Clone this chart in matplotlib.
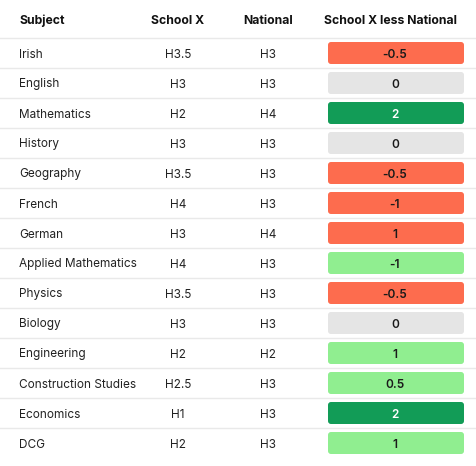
import matplotlib.pyplot as plt
from matplotlib.patches import FancyBboxPatch

subjects = ['Irish', 'English', 'Mathematics', 'History', 'Geography', 'French', 'German',
            'Applied Mathematics', 'Physics', 'Biology', 'Engineering',
            'Construction Studies', 'Economics', 'DCG']
school_x = ['H3.5', 'H3', 'H2', 'H3', 'H3.5', 'H4', 'H3', 'H4', 'H3.5', 'H3', 'H2', 'H2.5', 'H1', 'H2']
national = ['H3', 'H3', 'H4', 'H3', 'H3', 'H3', 'H4', 'H3', 'H3', 'H3', 'H2', 'H3', 'H3', 'H3']
diff = ['-0.5', '0', '2', '0', '-0.5', '-1', '1', '-1', '-0.5', '0', '1', '0.5', '2', '1']
status = ['worse', 'same', 'much_better', 'same', 'worse', 'worse', 'worse', 'better',
          'worse', 'same', 'better', 'better', 'much_better', 'better']
headers = ['Subject', 'School X', 'National', 'School X less National']

fill = {'worse': '#fd6c4e', 'same': '#e5e5e5', 'better': '#90ee90', 'much_better': '#129c57'}
txtc = {'worse': '#1a1a1a', 'same': '#1a1a1a', 'better': '#1a1a1a', 'much_better': 'white'}

plt.rcParams['font.family'] = ['Inter', 'DejaVu Sans']
W, H = 476, 466
fig = plt.figure(figsize=(W/100, H/100), dpi=100)
ax = fig.add_axes([0, 0, 1, 1])
ax.set_xlim(0, W)
ax.set_ylim(H, 0)
ax.axis('off')

fs = 8.5
hs = 8.8
ax.text(19, 21, headers[0], ha='left', va='center', fontsize=hs, fontweight='bold', color='#111111')
ax.text(178, 21, headers[1], ha='center', va='center', fontsize=hs, fontweight='bold', color='#111111')
ax.text(268, 21, headers[2], ha='center', va='center', fontsize=hs, fontweight='bold', color='#111111')
ax.text(390, 21, headers[3], ha='center', va='center', fontsize=hs, fontweight='bold', color='#111111')

for i in range(len(subjects)):
    y = 53 + 30*i
    ax.plot([0, W], [y-15, y-15], color='#e9e9e9', lw=1)
    ax.text(19, y+1.5, subjects[i], ha='left', va='center', fontsize=fs, color='#222222')
    ax.text(178, y+1.5, school_x[i], ha='center', va='center', fontsize=fs, color='#222222')
    ax.text(268, y+1.5, national[i], ha='center', va='center', fontsize=fs, color='#222222')
    box = FancyBboxPatch((328, y-11), 136, 22, boxstyle='round,pad=0,rounding_size=3',
                         facecolor=fill[status[i]], edgecolor='none')
    ax.add_patch(box)
    ax.text(395, y+1.5, diff[i], ha='center', va='center', fontsize=fs,
            fontweight='semibold', color=txtc[status[i]])

fig.savefig('out.png', dpi=100)
